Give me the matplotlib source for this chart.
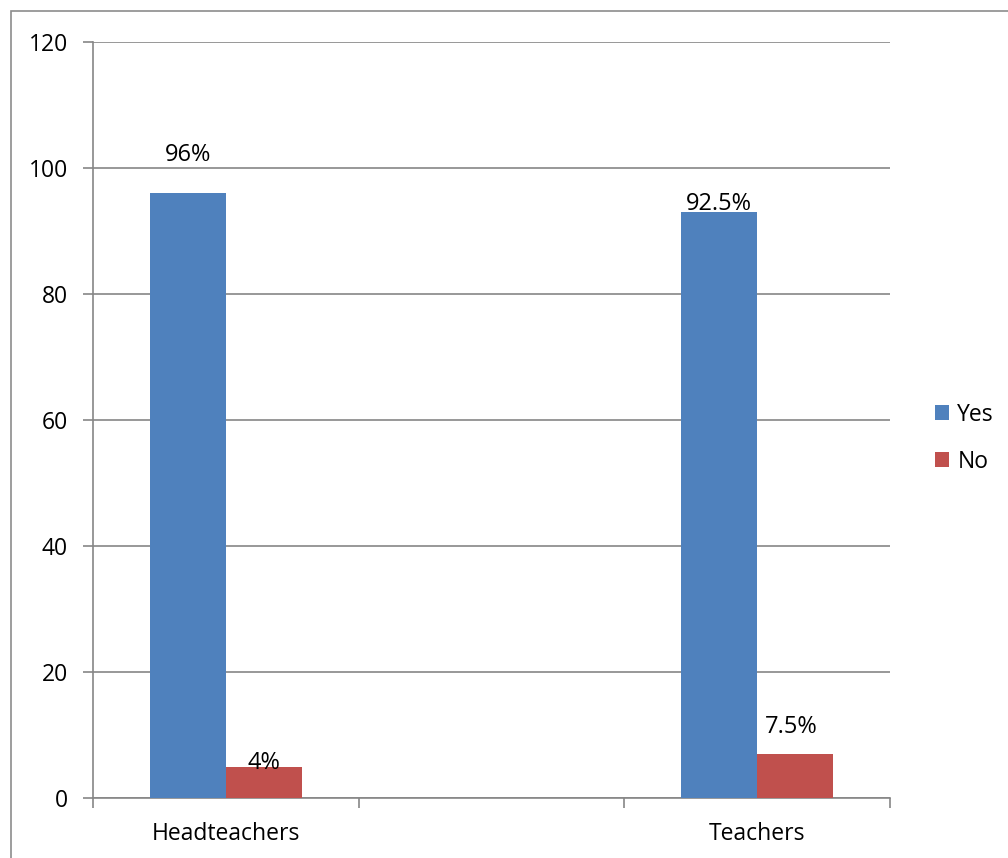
import numpy as np
import matplotlib.pyplot as plt
from matplotlib.patches import Rectangle

categories = ['Headteachers', '', 'Teachers']
yes_values = [96, None, 93]
no_values = [5, None, 7]
yes_labels = ['96%', '', '92.5%']
no_labels = ['4%', '', '7.5%']
series_names = ['Yes', 'No']

blue = '#4F81BD'
red = '#C0504D'
grid_gray = '#868686'

plt.rcParams['font.family'] = ['Open Sans', 'DejaVu Sans']

fig = plt.figure(figsize=(10.08, 8.58), dpi=100)
ax = fig.add_axes([93 / 1008, 1 - 798 / 858, (890 - 93) / 1008, (798 - 42) / 858])

# outer chart border
fig.patches.append(Rectangle((11 / 1008, -0.1), 1.2, 1 - 11 / 858 + 0.1,
                             transform=fig.transFigure, fill=False,
                             edgecolor='#8c8c8c', linewidth=1.2))

x = np.arange(len(categories))
width = 0.286
idx = [i for i, v in enumerate(yes_values) if v is not None]
xs = x[idx]
ys = [yes_values[i] for i in idx]
ns = [no_values[i] for i in idx]

ax.bar(xs - width / 2, ys, width, color=blue, label=series_names[0], zorder=3)
ax.bar(xs + width / 2, ns, width, color=red, label=series_names[1], zorder=3)

# data labels, placed by hand like the original
yes_offsets = {0: 6.0, 2: 1.3}
no_offsets = {0: 0.6, 2: 4.3}
yes_dx = {0: 0.0, 2: 0.0}
no_dx = {0: 0.0, 2: -0.015}
for i in idx:
    ax.text(x[i] - width / 2 + yes_dx[i], yes_values[i] + yes_offsets[i], yes_labels[i],
            ha='center', va='center', fontsize=17, zorder=4)
    ax.text(x[i] + width / 2 + no_dx[i], no_values[i] + no_offsets[i], no_labels[i],
            ha='center', va='center', fontsize=17, zorder=4)

ax.set_xlim(-0.5, 2.5)
ax.set_ylim(0, 120)
ax.set_yticks(np.arange(0, 121, 20))
ax.yaxis.grid(True, color=grid_gray, linewidth=1.2, zorder=0)
ax.set_axisbelow(True)

ax.set_xticks(np.arange(-0.5, 2.6, 1.0))
ax.set_xticklabels([])
ax.set_xticks(x[idx], minor=True)
ax.set_xticklabels([categories[i] for i in idx], minor=True)
ax.tick_params(axis='x', which='minor', length=0, pad=17, labelsize=16.5)
ax.tick_params(axis='x', which='major', length=7, color=grid_gray, width=1.2)
ax.tick_params(axis='y', length=7, color=grid_gray, width=1.2, labelsize=16.5, pad=11)

for side in ['top', 'right']:
    ax.spines[side].set_visible(False)
for side in ['left', 'bottom']:
    ax.spines[side].set_color(grid_gray)
    ax.spines[side].set_linewidth(1.2)

ax.legend(loc='center left', bbox_to_anchor=(1.03, 0.476), frameon=False,
          fontsize=16.5, handlelength=0.65, handleheight=0.65, handletextpad=0.35,
          labelspacing=1.0)

fig.savefig('out.png', dpi=100)
